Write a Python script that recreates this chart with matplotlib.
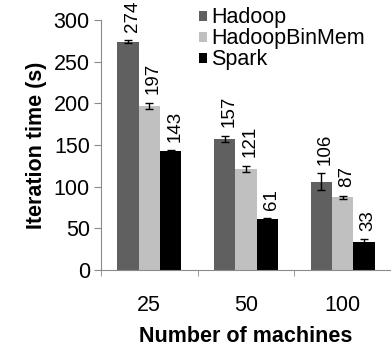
import matplotlib
matplotlib.use("Agg")
import matplotlib.pyplot as plt
import numpy as np

plt.rcParams['font.family'] = ['Liberation Sans', 'DejaVu Sans']

# data
machines = ["25", "50", "100"]
series = ["Hadoop", "HadoopBinMem", "Spark"]
hadoop = [274, 157, 106]
hadoop_binmem = [197, 121, 87]
spark = [143, 61, 33]
hadoop_err = [2, 4, 10]
hadoop_binmem_err = [4, 4, 2]
spark_err = [1, 1, 4]

_COLORS = ["#606060", "#c0c0c0", "#000000"]
_AXIS_GRAY = "#8a8a8a"

fig = plt.figure(figsize=(3.91, 3.46), dpi=100)
ax = fig.add_axes([0.258, 0.22, 0.742, 0.722])

x = np.arange(len(machines))
width = 0.22
values = [hadoop, hadoop_binmem, spark]
errors = [hadoop_err, hadoop_binmem_err, spark_err]

for i, (name, vals, errs, col) in enumerate(zip(series, values, errors, _COLORS)):
    pos = x + (i - 1) * width
    ax.bar(pos, vals, width, color=col, label=name, zorder=2)
    ax.errorbar(pos, vals, yerr=errs, fmt="none", ecolor="black",
                elinewidth=1.0, capsize=3, capthick=1.0, zorder=3)
    for p, v, e in zip(pos, vals, errs):
        ax.annotate(str(v), (p, v + e), xytext=(3, 6), textcoords="offset points",
                    rotation=90, ha="center", va="bottom", fontsize=13.5,
                    annotation_clip=False)

ax.set_xlim(-0.5, 2.5)
ax.set_ylim(0, 300)
ax.set_yticks(range(0, 301, 50))
ax.set_xticks(x)
ax.set_xticklabels(machines)
ax.set_xticks([-0.5, 0.5, 1.5, 2.5], minor=True)
ax.tick_params(axis="x", which="major", length=0, pad=18, labelsize=15.5)
ax.tick_params(axis="x", which="minor", length=4, color=_AXIS_GRAY, direction="out")
ax.tick_params(axis="y", length=5, color=_AXIS_GRAY, labelsize=15.5, pad=3)

for side in ("top", "right"):
    ax.spines[side].set_visible(False)
for side in ("left", "bottom"):
    ax.spines[side].set_color(_AXIS_GRAY)

ax.set_ylabel("Iteration time (s)", fontsize=15.5, fontweight="bold", labelpad=5)
ax.set_xlabel("Number of machines", fontsize=15.5, fontweight="bold", labelpad=7)

ax.legend(loc="upper left", bbox_to_anchor=(0.31, 1.085), frameon=False,
          fontsize=15.5, handlelength=0.35, handleheight=0.35, handletextpad=0.2,
          labelspacing=0.0, borderaxespad=0)

fig.savefig("out.png", dpi=100)
